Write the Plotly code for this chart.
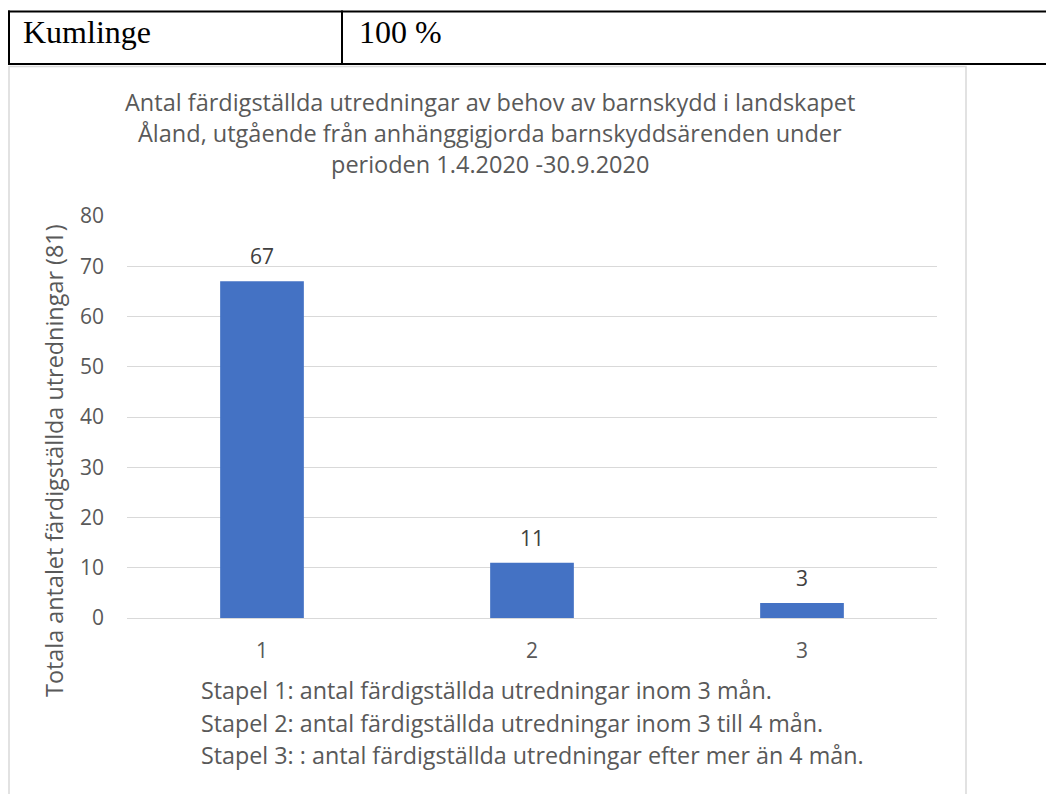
import plotly.graph_objects as go

categories = ["1", "2", "3"]
values = [67, 11, 3]
y_ticks = [0, 10, 20, 30, 40, 50, 60, 70, 80]
title_lines = [
    "Antal färdigställda utredningar av behov av barnskydd i landskapet",
    "Åland, utgående från anhänggigjorda barnskyddsärenden under",
    "perioden 1.4.2020 -30.9.2020",
]
note_lines = [
    "Stapel 1: antal färdigställda utredningar inom 3 mån.",
    "Stapel 2: antal färdigställda utredningar inom 3 till 4 mån.",
    "Stapel 3: : antal färdigställda utredningar efter mer än 4 mån.",
]
y_title = "Totala antalet färdigställda utredningar (81)"
table_cells = ["Kumlinge", "100 %"]

W, H = 1054, 794
OFF = 8  # page body margin
FONT = "Open Sans, sans-serif"
GREY = "#595959"

def px(x):
    return (x - OFF) / W

def py(y):
    return 1 - (y - OFF) / H

fig = go.Figure()
fig.add_trace(go.Bar(
    x=categories, y=values, width=0.31,
    marker=dict(color="#4472C4", line=dict(width=0)),
    hoverinfo="skip",
))

annotations = []
# data labels
for i, v in enumerate(values):
    annotations.append(dict(x=i, y=v, xref="x", yref="y", text=str(v), showarrow=False,
                            yshift=25, font=dict(family=FONT, size=21, color="#404040")))
# title
for i, t in enumerate(title_lines):
    annotations.append(dict(x=px(490), y=py(102 + 31 * i), xref="paper", yref="paper", text=t,
                            showarrow=False, xanchor="center", yanchor="middle",
                            font=dict(family=FONT, size=23.5, color=GREY)))
# notes
for i, t in enumerate(note_lines):
    annotations.append(dict(x=px(199), y=py(690 + 32.5 * i), xref="paper", yref="paper", text=t,
                            showarrow=False, xanchor="left", yanchor="middle",
                            font=dict(family=FONT, size=23.3, color=GREY)))
# y title
annotations.append(dict(x=px(54), y=py(461), xref="paper", yref="paper", text=y_title,
                        showarrow=False, textangle=-90, xanchor="center", yanchor="middle",
                        font=dict(family=FONT, size=23.4, color=GREY)))
# table texts
SERIF = "Liberation Serif, Times New Roman, serif"
annotations.append(dict(x=px(21), y=py(32), xref="paper", yref="paper", text=table_cells[0],
                        showarrow=False, xanchor="left", yanchor="middle",
                        font=dict(family=SERIF, size=32, color="#000000")))
annotations.append(dict(x=px(357), y=py(32), xref="paper", yref="paper", text=table_cells[1],
                        showarrow=False, xanchor="left", yanchor="middle",
                        font=dict(family=SERIF, size=32, color="#000000")))

shapes = [
    # chart frame
    dict(type="rect", xref="paper", yref="paper", x0=px(9), x1=px(966), y0=py(810), y1=py(66.5),
         line=dict(color="#D9D9D9", width=1.5), fillcolor="rgba(0,0,0,0)", layer="below"),
    # table
    dict(type="line", xref="paper", yref="paper", x0=px(8), x1=px(1070), y0=py(11.5), y1=py(11.5),
         line=dict(color="#000000", width=2)),
    dict(type="line", xref="paper", yref="paper", x0=px(8), x1=px(1070), y0=py(64), y1=py(64),
         line=dict(color="#000000", width=2)),
    dict(type="line", xref="paper", yref="paper", x0=px(9), x1=px(9), y0=py(10.5), y1=py(65),
         line=dict(color="#000000", width=2)),
    dict(type="line", xref="paper", yref="paper", x0=px(342), x1=px(342), y0=py(10.5), y1=py(65),
         line=dict(color="#000000", width=2)),
]

fig.update_layout(
    width=W, height=H,
    margin=dict(l=0, r=0, t=0, b=0, autoexpand=False),
    paper_bgcolor="white", plot_bgcolor="white",
    showlegend=False,
    annotations=annotations,
    shapes=shapes,
    xaxis=dict(domain=[px(127), px(937)], range=[-0.5, 2.5], showgrid=False, showline=False,
               zeroline=False, automargin=False,
               tickfont=dict(family=FONT, size=21, color=GREY), ticks="", ticklabelstandoff=18,
               fixedrange=True),
    yaxis=dict(domain=[py(618), py(216)], range=[0, 80], tickvals=y_ticks, automargin=False,
               showgrid=True, gridcolor="#D9D9D9", gridwidth=1.3, zeroline=True,
               zerolinecolor="#D9D9D9", zerolinewidth=1.3, showline=False,
               tickfont=dict(family=FONT, size=21, color=GREY), ticks="", ticklabelstandoff=22,
               fixedrange=True),
)

fig.write_html("out.html")
